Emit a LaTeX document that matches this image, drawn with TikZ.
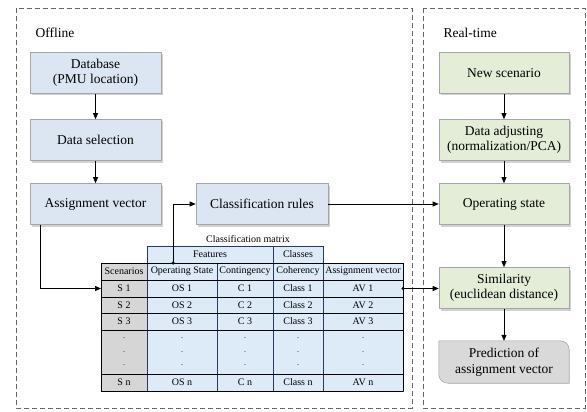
\documentclass[tikz,border=0pt]{standalone}
\usepackage{fontspec}
\setmainfont{Liberation Serif}
\usetikzlibrary{arrows.meta,shadows,backgrounds}
\definecolor{bluefill}{HTML}{DCE6F2}
\definecolor{greenfill}{HTML}{E4EDD8}
\definecolor{grayfill}{HTML}{D9D9D9}
\definecolor{cellblue}{HTML}{DDEAF7}
\definecolor{cellgray}{HTML}{D6D6D6}
\definecolor{boxborder}{HTML}{A6A6A6}
\definecolor{navyline}{HTML}{243B5E}
\tikzset{
  box/.style={draw=boxborder, line width=0.6pt, minimum width=131pt, minimum height=41pt,
    align=center, font=\fontsize{13.5}{15.5}\selectfont, inner sep=2pt,
    drop shadow={shadow xshift=2pt, shadow yshift=-2pt, opacity=0.3, fill=black!60}},
  offbox/.style={box, fill=bluefill},
  rtbox/.style={box, fill=greenfill, minimum width=130pt},
  cell/.style={draw=navyline, line width=0.6pt, inner sep=0pt, outer sep=0pt,
    font=\fontsize{10}{11}\selectfont},
  bcell/.style={cell, fill=cellblue},
  gcell/.style={cell, fill=cellgray},
  dcell/.style={align=center, minimum height=44pt, font=\fontsize{8}{13.5}\selectfont},
  hline/.style={draw=black, line width=0.8pt},
  arr/.style={-{Triangle[length=6pt,width=5pt]}, line width=0.7pt},
  frame/.style={draw=gray!80!black, dash pattern=on 5pt off 3pt, line width=0.8pt},
  lbl/.style={anchor=west, font=\fontsize{13.5}{15.5}\selectfont},
  dotc/.style={circle, fill=black, inner sep=0pt, minimum size=3.5pt}
}
\begin{document}
\begin{tikzpicture}[x=1pt,y=-1pt]
\useasboundingbox (0,0) rectangle (587,412);
% frames
\draw[frame] (16,8) rectangle (412,408);
\draw[frame] (423,8) rectangle (585,408);
\node[lbl] (offl) at (32,33) {Offline};
\node[lbl] (rtl) at (440,33) {Real-time};
% offline boxes
\node[offbox] (db) at (95.5,73) {Database\\(PMU location)};
\node[offbox] (ds) at (95.5,140) {Data selection};
\node[offbox] (av) at (95.5,204) {Assignment vector};
\node[offbox, minimum width=132pt] (cr) at (262,204) {Classification rules};
% real-time boxes
\node[rtbox] (ns) at (504,73) {New scenario};
\node[rtbox] (da) at (504,140) {Data adjusting\\(normalization/PCA)};
\node[rtbox] (os) at (504,204) {Operating state};
\node[rtbox] (sim) at (504,288) {Similarity\\(euclidean distance)};
\node[minimum width=130pt, minimum height=42pt, align=center, inner sep=2pt,
  font=\fontsize{13.5}{15.5}\selectfont] (pred) at (504,362) {Prediction of\\assignment vector};
\begin{pgfonlayer}{background}
\fill[black!60, opacity=0.3, shift={(2,2)}] (pred.west) -- (pred.north west)
  [rounded corners=9pt] -- (pred.north east) [sharp corners] -- (pred.south east)
  [rounded corners=9pt] -- (pred.south west) [sharp corners] -- cycle;
\filldraw[fill=grayfill, draw=boxborder, line width=0.6pt] (pred.west) -- (pred.north west)
  [rounded corners=9pt] -- (pred.north east) [sharp corners] -- (pred.south east)
  [rounded corners=9pt] -- (pred.south west) [sharp corners] -- cycle;
\end{pgfonlayer}
% classification matrix
\node[font=\fontsize{10}{11}\selectfont] (cmt) at (248,239.5) {Classification matrix};
\node[bcell, minimum width=126pt, minimum height=17pt] (feat) at (210,254.5) {Features};
\node[bcell, minimum width=50pt, minimum height=17pt] (cls) at (298,254.5) {Classes};
% header row
\node[gcell, minimum width=46pt, minimum height=17pt] (sch) at (124,271.5) {Scenarios};
\node[bcell, minimum width=70pt, minimum height=17pt] (osh) at (182,271.5) {Operating State};
\node[bcell, minimum width=56pt, minimum height=17pt] (cth) at (245,271.5) {Contingency};
\node[bcell, minimum width=50pt, minimum height=17pt] (coh) at (298,271.5) {Coherency};
\node[bcell, minimum width=80pt, minimum height=17pt] (avh) at (363,271.5) {Assignment vector};
% row 1
\node[gcell, minimum width=46pt, minimum height=17pt] (s1) at (124,288.5) {S 1};
\node[bcell, minimum width=70pt, minimum height=17pt] (os1) at (182,288.5) {OS 1};
\node[bcell, minimum width=56pt, minimum height=17pt] (c1) at (245,288.5) {C 1};
\node[bcell, minimum width=50pt, minimum height=17pt] (cl1) at (298,288.5) {Class 1};
\node[bcell, minimum width=80pt, minimum height=17pt] (av1) at (363,288.5) {AV 1};
% row 2
\node[gcell, minimum width=46pt, minimum height=16pt] (s2) at (124,305) {S 2};
\node[bcell, minimum width=70pt, minimum height=16pt] (os2) at (182,305) {OS 2};
\node[bcell, minimum width=56pt, minimum height=16pt] (c2) at (245,305) {C 2};
\node[bcell, minimum width=50pt, minimum height=16pt] (cl2) at (298,305) {Class 2};
\node[bcell, minimum width=80pt, minimum height=16pt] (av2) at (363,305) {AV 2};
% row 3
\node[gcell, minimum width=46pt, minimum height=17pt] (s3) at (124,321.5) {S 3};
\node[bcell, minimum width=70pt, minimum height=17pt] (os3) at (182,321.5) {OS 3};
\node[bcell, minimum width=56pt, minimum height=17pt] (c3) at (245,321.5) {C 3};
\node[bcell, minimum width=50pt, minimum height=17pt] (cl3) at (298,321.5) {Class 3};
\node[bcell, minimum width=80pt, minimum height=17pt] (av3) at (363,321.5) {AV 3};
% dots row
\node[gcell, dcell, minimum width=46pt] (sd) at (124,352) {.\\.\\.};
\node[bcell, dcell, minimum width=70pt] (osd) at (182,352) {.\\.\\.};
\node[bcell, dcell, minimum width=56pt] (cd) at (245,352) {.\\.\\.};
\node[bcell, dcell, minimum width=50pt] (cld) at (298,352) {.\\.\\.};
\node[bcell, dcell, minimum width=80pt] (avd) at (363,352) {.\\.\\.};
% row n
\node[gcell, minimum width=46pt, minimum height=17pt] (sn) at (124,382.5) {S n};
\node[bcell, minimum width=70pt, minimum height=17pt] (osn) at (182,382.5) {OS n};
\node[bcell, minimum width=56pt, minimum height=17pt] (cn) at (245,382.5) {C n};
\node[bcell, minimum width=50pt, minimum height=17pt] (cln) at (298,382.5) {Class n};
\node[bcell, minimum width=80pt, minimum height=17pt] (avn) at (363,382.5) {AV n};
% horizontal black rules
\draw[hline] (sch.north west) -- (avh.north east);
\draw[hline] (s1.north west) -- (av1.north east);
\draw[hline] (s2.north west) -- (av2.north east);
\draw[hline] (s3.north west) -- (av3.north east);
\draw[hline] (sd.north west) -- (avd.north east);
\draw[hline] (sn.north west) -- (avn.north east);
\draw[hline] (sn.south west) -- (avn.south east);
\draw[hline] (sch.north west) -- (sn.south west);
\draw[hline] (avh.north east) -- (avn.south east);
% connectors
\draw[arr] (db) -- (ds);
\draw[arr] (ds) -- (av);
\draw[arr] ([xshift=-55.5pt]av.south) |- (s1.west);
\node[dotc] (osdot) at ([xshift=-9pt]osh.north) {};
\draw[arr] (osdot.center) |- (cr.west);
\draw[arr] (cr.east) -- (os.west);
\draw[arr] (ns) -- (da);
\draw[arr] (da) -- (os);
\draw[arr] (os) -- (sim);
\draw[arr] (sim) -- (pred);
\node[dotc] (avdot) at (av1.east) {};
\draw[arr] (avdot.center) -- (avdot.center -| sim.west);
\end{tikzpicture}
\end{document}
